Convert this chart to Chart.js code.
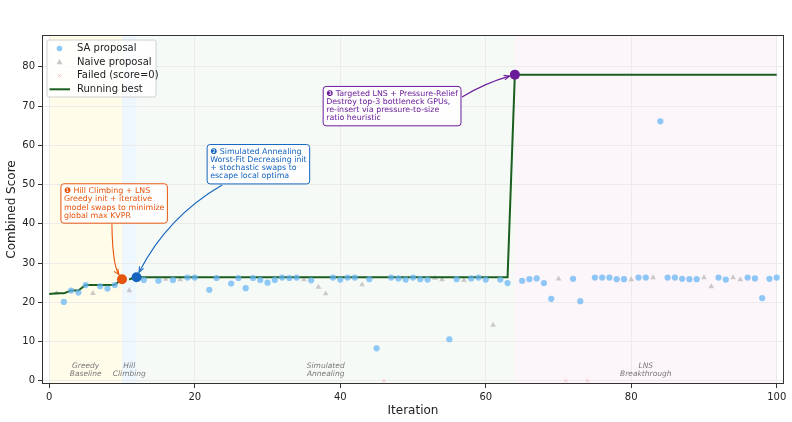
<!DOCTYPE html>
<html>
<head>
<meta charset="utf-8">
<script src="https://cdn.jsdelivr.net/npm/chart.js@4"></script>
<style>
  body { margin: 0; background: #fff; }
  canvas { display: block; }
</style>
</head>
<body>
<canvas id="chart" width="792" height="422"></canvas>
<script>
// Pontos SA (iteração, score)
const saIter  = [2, 3, 4, 5, 7, 8, 9, 13, 15, 17, 19, 20, 22, 23, 25, 26, 27, 28, 29, 30, 31, 32, 33, 34, 36, 39, 40, 41, 42, 44, 45, 47, 48, 49, 50, 51, 52, 55, 56, 58, 59, 60, 62, 63, 65, 66, 67, 68, 69, 72, 73, 75, 76, 77, 78, 79, 81, 82, 84, 85, 86, 87, 88, 89, 92, 93, 96, 97, 98, 99, 100];
const saScore = [20.1, 23.0, 22.5, 24.4, 24.1, 23.5, 24.4, 25.7, 25.5, 25.7, 26.3, 26.3, 23.2, 26.2, 24.8, 26.2, 23.6, 26.2, 25.7, 25.0, 25.7, 26.3, 26.2, 26.3, 25.6, 26.3, 25.8, 26.3, 26.3, 25.9, 8.3, 26.3, 26.1, 25.8, 26.3, 25.9, 25.8, 10.6, 25.9, 26.1, 26.3, 25.8, 25.8, 24.9, 25.5, 25.9, 26.1, 24.9, 20.9, 26.0, 20.3, 26.3, 26.3, 26.3, 25.9, 25.9, 26.3, 26.3, 66.1, 26.3, 26.3, 26.0, 25.9, 25.9, 26.3, 25.8, 26.3, 26.1, 21.1, 26.0, 26.3];

// Pontos naive
const naiveIter  = [1, 6, 11, 16, 18, 35, 37, 38, 43, 53, 54, 57, 61, 70, 80, 83, 90, 91, 94, 95];
const naiveScore = [22.3, 22.3, 23.0, 25.9, 25.8, 25.8, 23.9, 22.2, 24.5, 26.2, 25.8, 25.6, 14.2, 26.0, 25.8, 26.3, 26.3, 24.0, 26.3, 25.8];

// Falhas (score = 0)
const failedIter  = [46, 71, 74];
const failedScore = [0, 0, 0];

// Melhor até agora, uma entrada por iteração (0..100)
const bestScore = [
  22.1, 22.3, 22.3, 23.0, 23.0, 24.4, 24.4, 24.4, 24.4, 24.5,
  25.9, 25.9, 26.4, 26.4, 26.4, 26.4, 26.4, 26.4, 26.4, 26.4,
  26.4, 26.4, 26.4, 26.4, 26.4, 26.4, 26.4, 26.4, 26.4, 26.4,
  26.4, 26.4, 26.4, 26.4, 26.4, 26.4, 26.4, 26.4, 26.4, 26.4,
  26.4, 26.4, 26.4, 26.4, 26.4, 26.4, 26.4, 26.4, 26.4, 26.4,
  26.4, 26.4, 26.4, 26.4, 26.4, 26.4, 26.4, 26.4, 26.4, 26.4,
  26.4, 26.4, 26.4, 26.4, 78.0, 78.0, 78.0, 78.0, 78.0, 78.0,
  78.0, 78.0, 78.0, 78.0, 78.0, 78.0, 78.0, 78.0, 78.0, 78.0,
  78.0, 78.0, 78.0, 78.0, 78.0, 78.0, 78.0, 78.0, 78.0, 78.0,
  78.0, 78.0, 78.0, 78.0, 78.0, 78.0, 78.0, 78.0, 78.0, 78.0,
  78.0
];

// Marcos (mudança de estratégia)
const milestoneIter  = [10, 12, 64];
const milestoneScore = [25.9, 26.4, 78.0];

// Fases
const phaseStart = [0, 10, 12, 64];
const phaseEnd   = [10, 12, 64, 100];
const phaseLabel = [['Greedy', 'Baseline'], ['Hill', 'Climbing'], ['Simulated', 'Annealing'], ['LNS', 'Breakthrough']];

// Textos das anotações
const noteText = [
  ['❶ Hill Climbing + LNS', 'Greedy init + iterative', 'model swaps to minimize', 'global max KVPR'],
  ['❷ Simulated Annealing', 'Worst-Fit Decreasing init', '+ stochastic swaps to', 'escape local optima'],
  ['❸ Targeted LNS + Pressure-Relief', 'Destroy top-3 bottleneck GPUs,', 're-insert via pressure-to-size', 'ratio heuristic']
];

const xTicks = [0, 20, 40, 60, 80, 100];
const yTicks = [0, 10, 20, 30, 40, 50, 60, 70, 80];

const FONT = "'DejaVu Sans', sans-serif";
const milestoneColor = ['#e6550d', '#1565c0', '#6a1b9a'];
const phaseFill = ['rgba(255,248,200,0.38)', 'rgba(210,232,252,0.38)', 'rgba(225,238,225,0.3)', 'rgba(245,225,240,0.35)'];

const toPts = (xs, ys) => xs.map((x, i) => ({ x: x, y: ys[i] }));

// Faixas de fundo e rótulos das fases
const phasePlugin = {
  id: 'phases',
  beforeDraw(chart) {
    const { ctx, chartArea: a, scales: { x } } = chart;
    ctx.save();
    phaseStart.forEach((s, i) => {
      const x0 = x.getPixelForValue(s), x1 = x.getPixelForValue(phaseEnd[i]);
      ctx.fillStyle = phaseFill[i];
      ctx.fillRect(x0, a.top, x1 - x0, a.bottom - a.top);
    });
    ctx.restore();
  },
  beforeDatasetsDraw(chart) {
    const { ctx, scales: { x, y } } = chart;
    ctx.save();
    ctx.font = 'italic 7.5px ' + FONT;
    ctx.fillStyle = '#777';
    ctx.textAlign = 'center';
    ctx.textBaseline = 'middle';
    phaseLabel.forEach((lines, i) => {
      const cx = x.getPixelForValue((phaseStart[i] + phaseEnd[i]) / 2);
      lines.forEach((t, j) => ctx.fillText(t, cx, y.getPixelForValue(3.9) + j * 8));
    });
    ctx.restore();
  }
};

// Caixas de texto + setas
const noteLayout = [
  { box: [1.6, 50.2], from: (b) => [b.l + 51, b.b + 1], ctrl: [0.6, 41] },
  { box: [21.7, 60.2], from: (b) => [b.l + 15, b.b + 1], ctrl: [-55, 32] },
  { box: [37.65, 75.0], from: (b) => [b.r + 1, b.t + 10.6], ctrl: [23, -14] }
];

const notePlugin = {
  id: 'notes',
  afterDatasetsDraw(chart) {
    const { ctx, scales: { x, y } } = chart;
    ctx.save();
    ctx.font = '7.9px ' + FONT;
    noteText.forEach((lines, i) => {
      const L = noteLayout[i];
      const col = milestoneColor[i];
      const w = Math.max(...lines.map(t => ctx.measureText(t).width)) + 6;
      const h = lines.length * 8.1 + 7;
      const b = { l: x.getPixelForValue(L.box[0]), t: y.getPixelForValue(L.box[1]) };
      b.r = b.l + w; b.b = b.t + h;

      // seta
      const [sx, sy] = L.from(b);
      const cx = sx + L.ctrl[0], cy = sy + L.ctrl[1];
      const mx = x.getPixelForValue(milestoneIter[i]), my = y.getPixelForValue(milestoneScore[i]);
      const ang = Math.atan2(my - cy, mx - cx);
      const ex = mx - Math.cos(ang) * 5.5, ey = my - Math.sin(ang) * 5.5;
      ctx.strokeStyle = col;
      ctx.lineWidth = 1.1;
      ctx.beginPath();
      ctx.moveTo(sx, sy);
      ctx.quadraticCurveTo(cx, cy, ex, ey);
      ctx.stroke();
      ctx.beginPath();
      ctx.moveTo(ex - 6 * Math.cos(ang - 0.4), ey - 6 * Math.sin(ang - 0.4));
      ctx.lineTo(ex, ey);
      ctx.lineTo(ex - 6 * Math.cos(ang + 0.4), ey - 6 * Math.sin(ang + 0.4));
      ctx.stroke();

      // caixa
      ctx.beginPath();
      ctx.roundRect(b.l, b.t, w, h, 3);
      ctx.fillStyle = 'rgba(255,255,255,0.92)';
      ctx.fill();
      ctx.lineWidth = 1;
      ctx.stroke();
      ctx.fillStyle = col;
      ctx.textBaseline = 'middle';
      lines.forEach((t, j) => ctx.fillText(t, b.l + 3, b.t + 3.5 + 4.05 + j * 8.1));
    });
    ctx.restore();
  }
};

// Legenda dentro da área + moldura
const legendPlugin = {
  id: 'boxLegend',
  afterDraw(chart) {
    const { ctx, chartArea: a } = chart;
    ctx.save();
    const lx = a.left + 5, ly = a.top + 5;
    ctx.beginPath();
    ctx.roundRect(lx, ly, 109, 57, 2);
    ctx.fillStyle = 'rgba(255,255,255,0.85)';
    ctx.fill();
    ctx.strokeStyle = '#d0d0d0';
    ctx.lineWidth = 1;
    ctx.stroke();
    const items = ['SA proposal', 'Naive proposal', 'Failed (score=0)', 'Running best'];
    ctx.font = '10px ' + FONT;
    ctx.textBaseline = 'middle';
    items.forEach((t, i) => {
      const yy = ly + 8.5 + i * 13.6;
      const mx = lx + 12.5;
      if (i === 0) {
        ctx.fillStyle = 'rgba(100,180,245,0.75)';
        ctx.beginPath(); ctx.arc(mx, yy, 2.8, 0, Math.PI * 2); ctx.fill();
      } else if (i === 1) {
        ctx.fillStyle = 'rgba(185,185,185,0.8)';
        ctx.beginPath(); ctx.moveTo(mx, yy - 3); ctx.lineTo(mx + 3, yy + 2.2); ctx.lineTo(mx - 3, yy + 2.2); ctx.closePath(); ctx.fill();
      } else if (i === 2) {
        ctx.strokeStyle = 'rgba(239,120,120,0.35)';
        ctx.lineWidth = 1;
        ctx.beginPath(); ctx.moveTo(mx - 2, yy - 2); ctx.lineTo(mx + 2, yy + 2); ctx.moveTo(mx + 2, yy - 2); ctx.lineTo(mx - 2, yy + 2); ctx.stroke();
      } else {
        ctx.strokeStyle = '#1b5e20';
        ctx.lineWidth = 2;
        ctx.beginPath(); ctx.moveTo(lx + 2.5, yy); ctx.lineTo(lx + 23, yy); ctx.stroke();
      }
      ctx.fillStyle = '#222';
      ctx.fillText(t, lx + 30, yy);
    });
    ctx.strokeStyle = '#333';
    ctx.lineWidth = 1;
    ctx.strokeRect(Math.round(a.left) + 0.5, Math.round(a.top) + 0.5, Math.round(a.right - a.left) - 1, Math.round(a.bottom - a.top) - 1);
    ctx.restore();
  }
};

const chartCanvas = document.getElementById('chart');

new Chart(chartCanvas, {
  type: 'scatter',
  data: {
    datasets: [
      {
        label: 'Milestones',
        data: toPts(milestoneIter, milestoneScore),
        backgroundColor: milestoneColor,
        borderWidth: 0,
        pointRadius: 5,
        order: 0
      },
      {
        label: 'SA proposal',
        data: toPts(saIter, saScore),
        backgroundColor: 'rgba(100,180,245,0.72)',
        borderWidth: 0,
        pointRadius: 3.1,
        order: 1
      },
      {
        label: 'Running best',
        data: bestScore.map((v, i) => ({ x: i, y: v })),
        showLine: true,
        borderColor: '#1b5e20',
        borderWidth: 2,
        pointRadius: 0,
        tension: 0,
        segment: {
          borderDash: c => (c.p0DataIndex >= 10 && c.p1DataIndex <= 12) ? [4, 3] : undefined
        },
        order: 2
      },
      {
        label: 'Naive proposal',
        data: toPts(naiveIter, naiveScore),
        pointStyle: 'triangle',
        backgroundColor: 'rgba(185,185,185,0.75)',
        borderWidth: 0,
        pointRadius: 3.3,
        order: 3
      },
      {
        label: 'Failed (score=0)',
        data: toPts(failedIter, failedScore),
        pointStyle: 'crossRot',
        borderColor: 'rgba(239,120,120,0.35)',
        borderWidth: 1,
        pointRadius: 2.5,
        order: 4
      }
    ]
  },
  options: {
    responsive: false,
    animation: false,
    layout: { padding: { top: 35, right: 8, left: 0, bottom: 0 } },
    plugins: {
      legend: { display: false },
      tooltip: { enabled: false }
    },
    scales: {
      x: {
        type: 'linear',
        min: -1,
        max: 101,
        afterBuildTicks: s => { s.ticks = xTicks.map(v => ({ value: v })); },
        afterFit: s => { s.height = 38; },
        ticks: { color: '#222', font: { family: FONT, size: 10 }, padding: 3, maxRotation: 0 },
        grid: { color: '#ebebeb', tickColor: '#333', tickLength: 4 },
        border: { display: false },
        title: { display: true, text: 'Iteration', color: '#222', font: { family: FONT, size: 12 }, padding: { top: 0, bottom: 4 } }
      },
      y: {
        min: -0.8,
        max: 88.1,
        afterBuildTicks: s => { s.ticks = yTicks.map(v => ({ value: v })); },
        afterFit: s => { s.width = 42; },
        ticks: { color: '#222', font: { family: FONT, size: 10 }, padding: 3 },
        grid: { color: '#ebebeb', tickColor: '#333', tickLength: 4 },
        border: { display: false },
        title: { display: true, text: 'Combined Score', color: '#222', font: { family: FONT, size: 12 }, padding: { top: 5, bottom: 0 } }
      }
    }
  },
  plugins: [phasePlugin, notePlugin, legendPlugin]
});
</script>
</body>
</html>
